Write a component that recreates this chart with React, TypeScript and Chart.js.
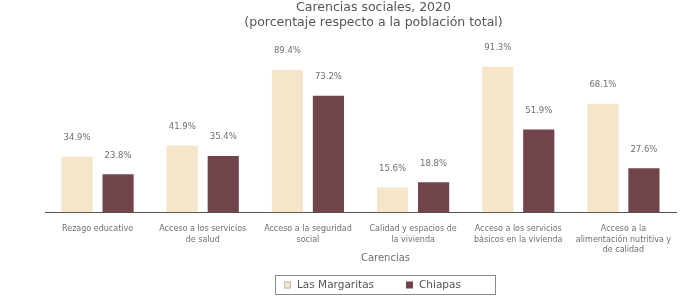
import { useEffect, useRef } from "react";
import { Chart, registerables } from "chart.js";

Chart.register(...registerables);

const titleLines = ["Carencias sociales, 2020", "(porcentaje respecto a la población total)"];
const categories = [
  ["Rezago educativo"],
  ["Acceso a los servicios", "de salud"],
  ["Acceso a la seguridad", "social"],
  ["Calidad y espacios de", "la vivienda"],
  ["Acceso a los servicios", "básicos en la vivienda"],
  ["Acceso a la", "alimentación nutritiva y", "de calidad"],
];
const seriesNames = ["Las Margaritas", "Chiapas"];
const municipioValues = [34.9, 41.9, 89.4, 15.6, 91.3, 68.1];
const estadoValues = [23.8, 35.4, 73.2, 18.8, 51.9, 27.6];
const xAxisTitle = "Carencias";

const FONT = "'DejaVu Sans', Verdana, sans-serif";
const BEIGE = "#f5e6ca";
const MAROON = "#71444c";
const TEXT = "#6f6f6f";

const valueLabels = {
  id: "valueLabels",
  afterDatasetsDraw(chart: any) {
    const ctx = chart.ctx;
    ctx.save();
    ctx.font = `8.5px ${FONT}`;
    ctx.fillStyle = TEXT;
    ctx.textAlign = "center";
    ctx.textBaseline = "middle";
    chart.data.datasets.forEach((ds: any, i: number) => {
      chart.getDatasetMeta(i).data.forEach((bar: any, j: number) => {
        ctx.fillText(Number(ds.data[j]).toFixed(1) + "%", bar.x, bar.y - 19);
      });
    });
    ctx.restore();
  },
};

const titleAndLegend = {
  id: "titleAndLegend",
  afterDraw(chart: any) {
    const ctx = chart.ctx;
    const area = chart.chartArea;
    const mid = (area.left + area.right) / 2;
    const cx = mid + 13;
    ctx.save();
    ctx.fillStyle = "#555";
    ctx.font = `12.5px ${FONT}`;
    ctx.textAlign = "center";
    ctx.textBaseline = "middle";
    ctx.fillText(titleLines[0], cx, 8);
    ctx.fillText(titleLines[1], cx, 23);

    // x axis title
    ctx.fillStyle = TEXT;
    ctx.font = `10px ${FONT}`;
    ctx.fillText(xAxisTitle, mid + 25, area.bottom + 46);

    // legend box
    const bx = 275.5, by = 275.5, bw = 220, bh = 19;
    ctx.strokeStyle = "#8a8a8a";
    ctx.lineWidth = 1;
    ctx.strokeRect(bx, by, bw, bh);
    const cy = by + bh / 2;
    const colors = [BEIGE, MAROON];
    const xs = [284, 406];
    ctx.font = `10.5px ${FONT}`;
    ctx.textAlign = "left";
    seriesNames.forEach((name, i) => {
      ctx.fillStyle = colors[i];
      ctx.fillRect(xs[i], cy - 3.5, 7, 7);
      if (i === 0) {
        ctx.strokeStyle = "#bbb";
        ctx.strokeRect(xs[i] + 0.5, cy - 3, 6, 6);
      }
      ctx.fillStyle = "#555";
      ctx.fillText(name, xs[i] + 13, cy + 0.5);
    });
    ctx.restore();
  },
};

export default function App() {
  const ref = useRef<HTMLCanvasElement | null>(null);
  useEffect(() => {
    if (!ref.current) return;
    const chart = new Chart(ref.current, {
      type: "bar",
      data: {
        labels: categories,
        datasets: [
          {
            label: seriesNames[0],
            data: municipioValues,
            backgroundColor: BEIGE,
            categoryPercentage: 0.78,
            barPercentage: 0.76,
          },
          {
            label: seriesNames[1],
            data: estadoValues,
            backgroundColor: MAROON,
            categoryPercentage: 0.78,
            barPercentage: 0.76,
          },
        ],
      },
      options: {
        animation: false,
        responsive: true,
        maintainAspectRatio: false,
        layout: { padding: { left: 45, right: 10, top: 53, bottom: 40 } },
        plugins: {
          legend: { display: false },
          title: { display: false },
          tooltip: { enabled: false },
        },
        scales: {
          x: {
            grid: { display: false, drawTicks: false },
            border: { display: true, color: "#555", width: 1 },
            ticks: {
              color: TEXT,
              font: { family: FONT, size: 8, lineHeight: 1.28 },
              padding: 12,
              maxRotation: 0,
              autoSkip: false,
            },
          },
          y: {
            display: false,
            min: 0,
            max: 100,
          },
        },
      },
      plugins: [valueLabels, titleAndLegend],
    });
    return () => chart.destroy();
  }, []);
  return (
    <div style={{ position: "absolute", left: 0, top: 0, width: 686, height: 307, background: "#fff" }}>
      <canvas ref={ref} />
    </div>
  );
}
